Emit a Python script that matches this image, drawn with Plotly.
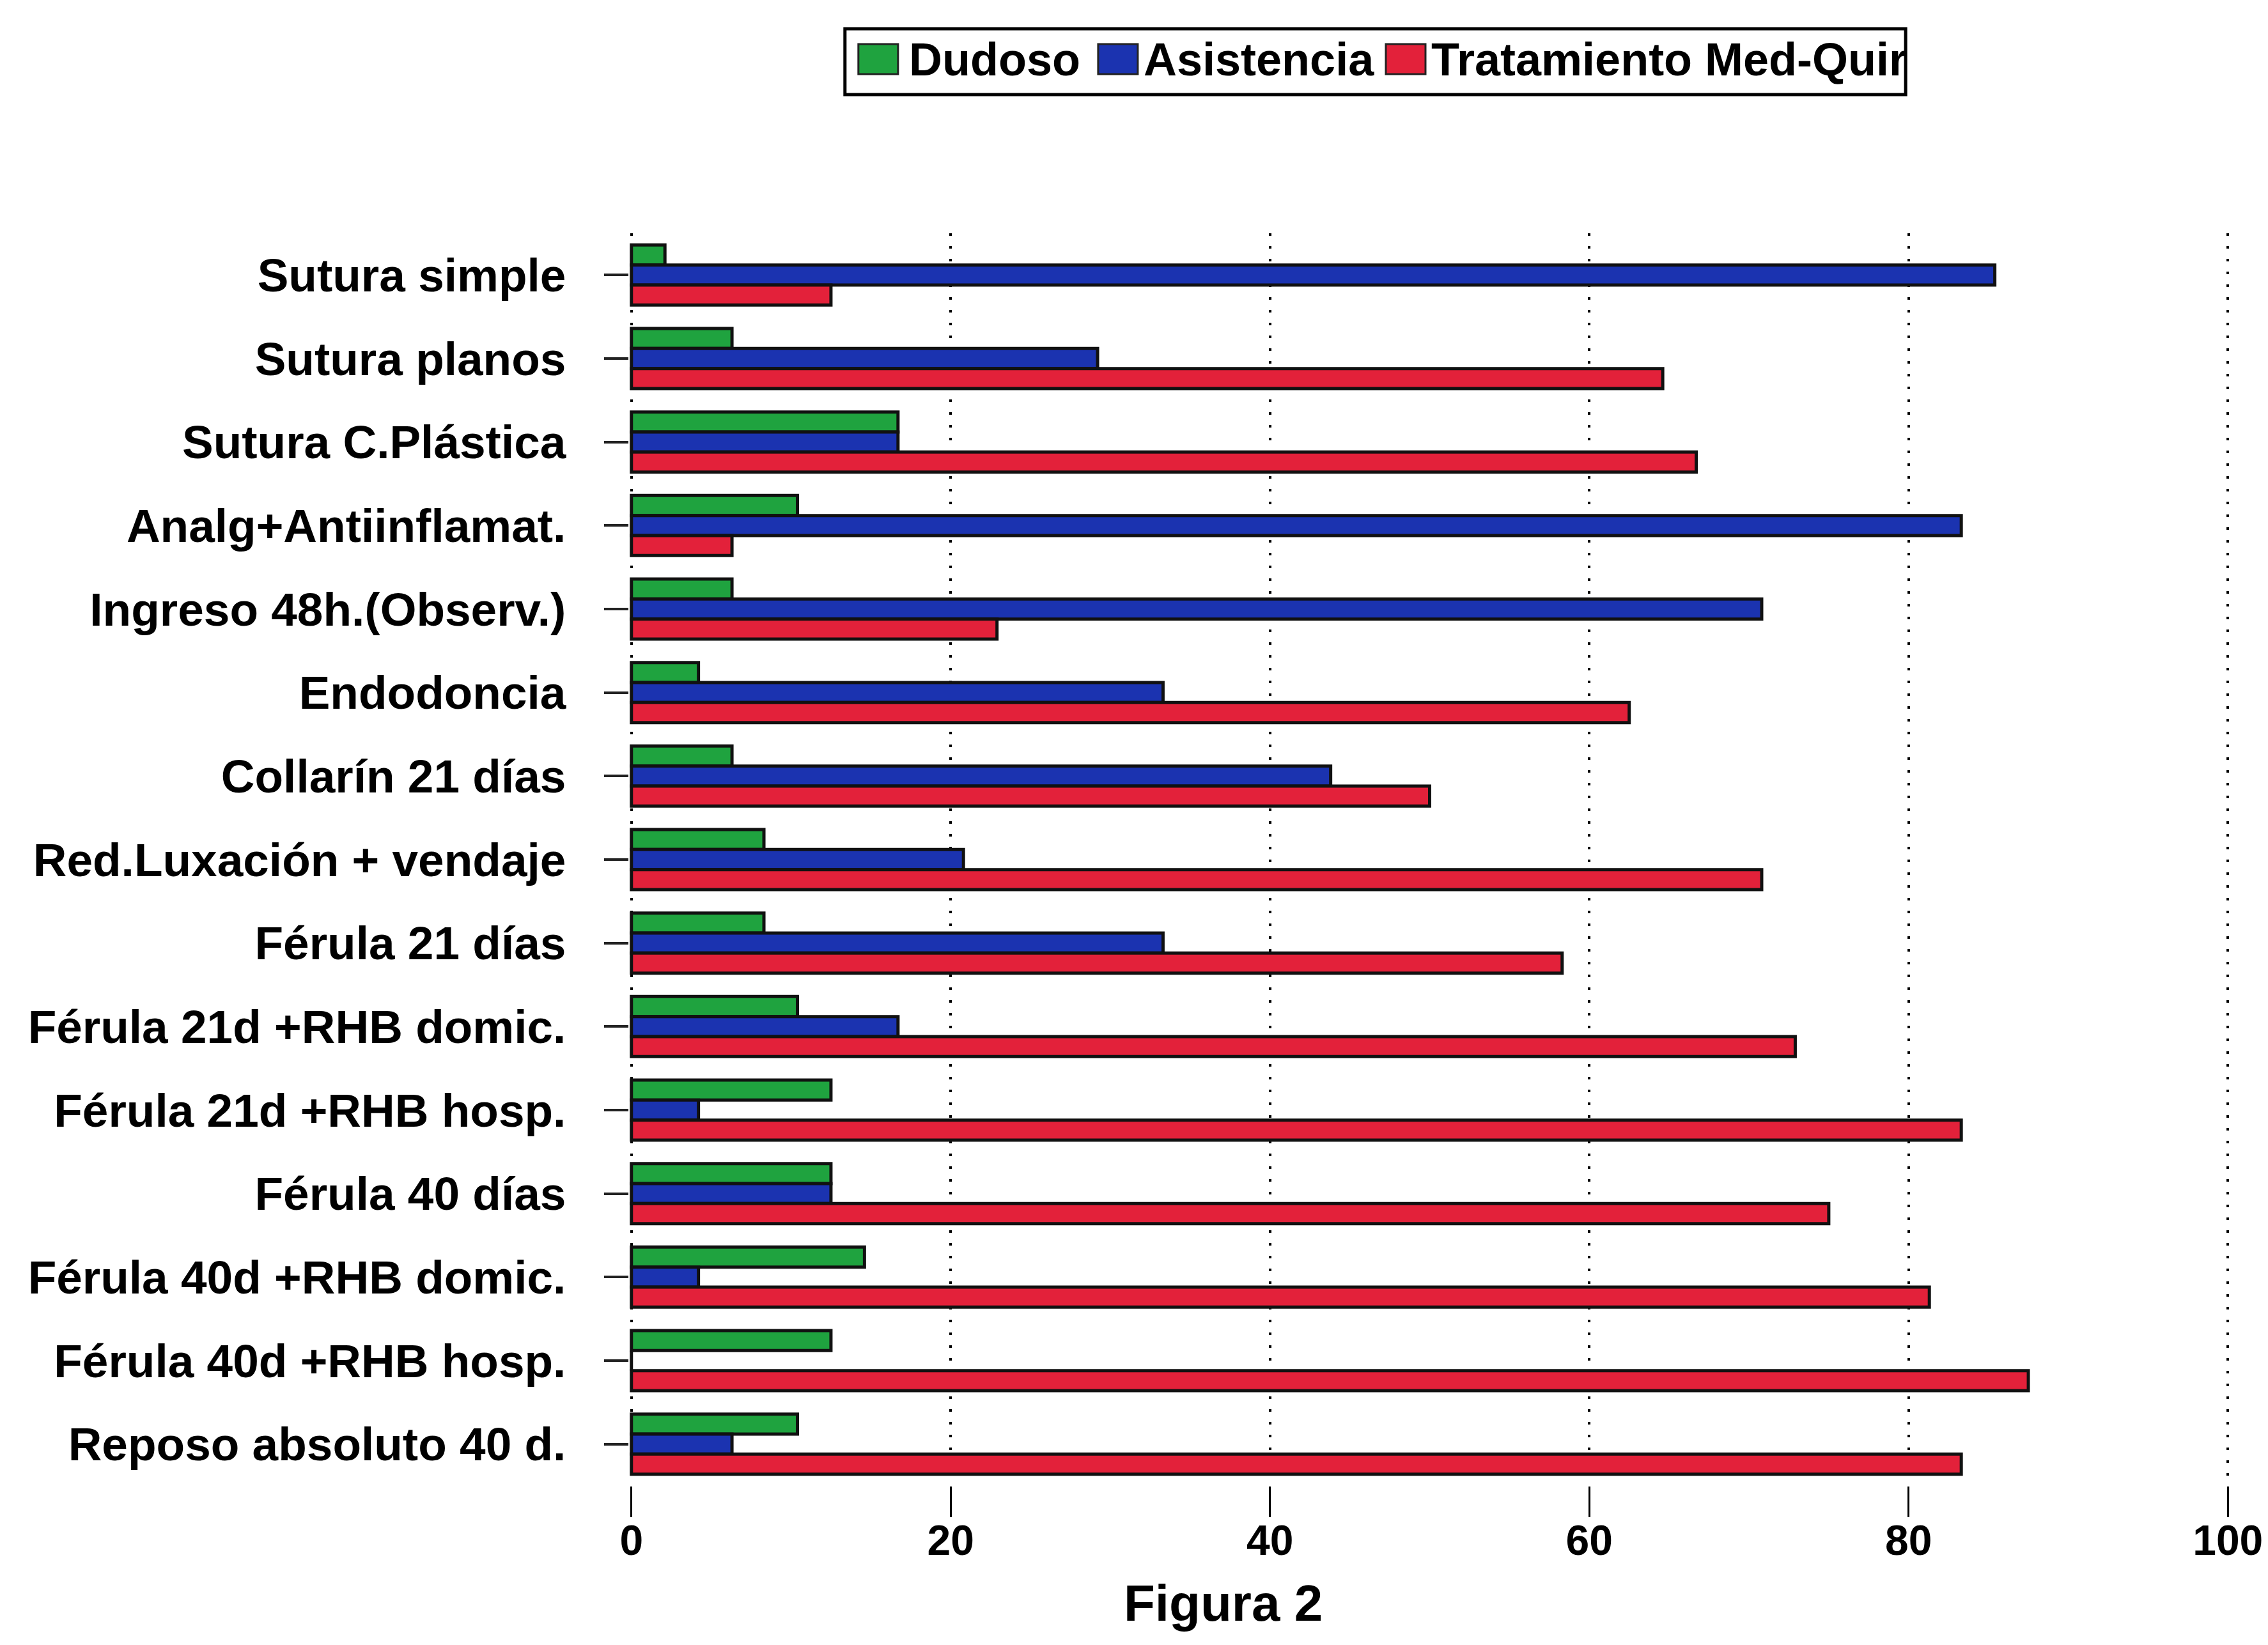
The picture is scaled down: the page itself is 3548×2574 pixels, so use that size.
import plotly.graph_objects as go

categories = [
    "Sutura simple", "Sutura planos", "Sutura C.Plástica", "Analg+Antiinflamat.",
    "Ingreso 48h.(Observ.)", "Endodoncia", "Collarín 21 días", "Red.Luxación + vendaje",
    "Férula 21 días", "Férula 21d +RHB domic.", "Férula 21d +RHB hosp.", "Férula 40 días",
    "Férula 40d +RHB domic.", "Férula 40d +RHB hosp.", "Reposo absoluto 40 d.",
]
dudoso = [2.1, 6.3, 16.7, 10.4, 6.3, 4.2, 6.3, 8.3, 8.3, 10.4, 12.5, 12.5, 14.6, 12.5, 10.4]
asistencia = [85.4, 29.2, 16.7, 83.3, 70.8, 33.3, 43.8, 20.8, 33.3, 16.7, 4.2, 12.5, 4.2, 0.0, 6.3]
tratamiento = [12.5, 64.6, 66.7, 6.3, 22.9, 62.5, 50.0, 70.8, 58.3, 72.9, 83.3, 75.0, 81.3, 87.5, 83.3]
series_names = ["Dudoso", "Asistencia", "Tratamiento Med-Quir"]
series_colors = ["#1fa33f", "#1b33b0", "#e3213a"]
x_ticks = [0, 20, 40, 60, 80, 100]
x_ticklabels = ["0", "20", "40", "60", "80", "100"]
x_title = "Figura 2"

# page body has an 8px default margin: size the figure to the window minus it,
# and express reference pixel positions relative to the figure origin.
OFF = 8
W, H = 3548 - 2 * OFF, 2574 - 2 * OFF
XPAD = 0.15
SCALE = (3485 - 988) / 100.0
L = (988 - OFF) - XPAD * SCALE
R = W - ((3485 - OFF) + XPAD * SCALE)
T = 365 - OFF
B = H - (2325 - OFF)
PW, PH = W - L - R, H - T - B
FONT = "Liberation Sans, Arial, Helvetica, sans-serif"


def px(xref_pix):
    return (xref_pix - OFF - L) / PW


def py(yref_pix):
    return (H - B - (yref_pix - OFF)) / PH


fig = go.Figure()
for name, vals, col in zip(series_names, [dudoso, asistencia, tratamiento], series_colors):
    fig.add_trace(go.Bar(
        y=categories, x=vals, name=name, orientation="h",
        marker=dict(color=col, line=dict(color="#111111", width=5)),
        showlegend=False,
    ))

# manual legend (box + colored squares + labels)
shapes = [dict(type="rect", xref="paper", yref="paper",
               x0=px(1322), x1=px(2981), y0=py(148), y1=py(45),
               line=dict(color="black", width=5), fillcolor="white")]
annotations = []
sq_x = [1343, 1718, 2168]
txt_x = [1420, 1787, 2237]
for name, col, sx, tx in zip(series_names, series_colors, sq_x, txt_x):
    shapes.append(dict(type="rect", xref="paper", yref="paper",
                       x0=px(sx), x1=px(sx + 62), y0=py(116), y1=py(69),
                       line=dict(color="#222222", width=3), fillcolor=col))
    annotations.append(dict(text=name, xref="paper", yref="paper",
                            x=px(tx), y=py(93), xanchor="left", yanchor="middle",
                            showarrow=False,
                            font=dict(family=FONT, size=72, color="black", weight="bold")))

annotations.append(dict(text=x_title, xref="paper", yref="paper",
                        x=px(1914), y=py(2508), xanchor="center", yanchor="middle",
                        showarrow=False,
                        font=dict(family=FONT, size=80, color="black", weight="bold")))

fig.update_layout(
    width=W, height=H,
    margin=dict(l=L, r=R, t=T, b=B, autoexpand=False),
    paper_bgcolor="white", plot_bgcolor="white",
    barmode="group", bargap=0.28, bargroupgap=0.0,
    shapes=shapes, annotations=annotations,
    font=dict(family=FONT, color="black"),
)
fig.update_xaxes(
    range=[-XPAD, 100 + XPAD], tickvals=x_ticks, ticktext=x_ticklabels,
    showgrid=True, gridcolor="black", gridwidth=4, griddash="4px,16px",
    zeroline=False, showline=False,
    ticks="outside", ticklen=48, tickwidth=3, tickcolor="black",
    ticklabelstandoff=-20, ticklabeloverflow="allow",
    tickfont=dict(family=FONT, size=66, color="black", weight="bold"),
)
fig.update_yaxes(
    autorange="reversed", showgrid=False, zeroline=False, showline=False,
    ticks="outside", ticklen=38, tickwidth=4, tickcolor="#222222",
    ticklabelstandoff=45,
    tickfont=dict(family=FONT, size=73, color="black", weight="bold"),
)

fig.write_html("out.html")
